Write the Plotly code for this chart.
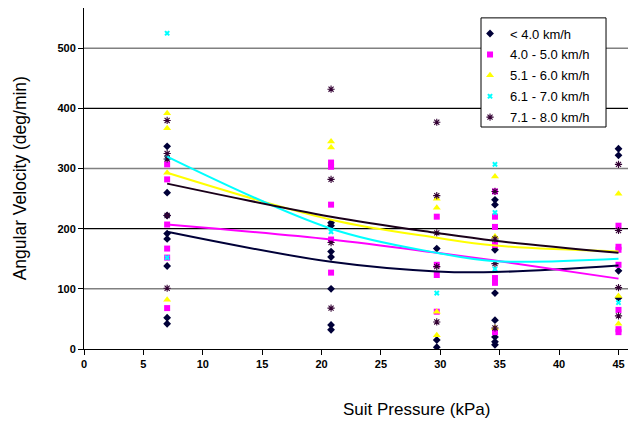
import plotly.graph_objects as go

# ---- data ----
series_names = ["&lt; 4.0 km/h", "4.0 - 5.0 km/h", "5.1 - 6.0 km/h", "6.1 - 7.0 km/h", "7.1 - 8.0 km/h"]

p_lt4 = [7]*8 + [20.8]*7 + [29.7]*3 + [34.6]*8 + [45]*4
v_lt4 = [337, 260, 222, 192, 183, 138, 52, 42,
         210, 205, 162, 153, 100, 40, 32,
         167, 15, 3,
         248, 240, 165, 93, 48, 20, 12, 7,
         333, 322, 130, 85]

p_4to5 = [7]*6 + [20.8]*5 + [29.7]*4 + [34.6]*7 + [45]*7
v_4to5 = [307, 282, 207, 167, 152, 68,
          310, 303, 240, 182, 127,
          220, 140, 123, 62,
          262, 220, 203, 173, 118, 110, 28,
          205, 170, 165, 140, 65, 33, 28]

p_5to6 = [7]*4 + [20.8]*2 + [29.7]*4 + [34.6]*3 + [45]*3
v_5to6 = [392, 367, 293, 82,
          345, 335,
          250, 235, 62, 23,
          287, 187, 35,
          258, 88, 42]

p_6to7 = [7]*3 + [20.8] + [29.7] + [34.6]*3 + [45]
v_6to7 = [525, 318, 152,
          195,
          93,
          307, 227, 133,
          77]

p_7to8 = [7]*5 + [20.8]*4 + [29.7]*5 + [34.6]*4 + [45]*4
v_7to8 = [380, 325, 316, 222, 101,
          432, 282, 177, 68,
          377, 255, 193, 137, 45,
          262, 183, 142, 35,
          307, 197, 102, 55]

# trend lines (values read at the measured pressures)
trend_p = [7, 20.8, 29.7, 34.6, 45]
trend_lt4 = [195, 145, 129, 128, 139]
trend_4to5 = [207, 182, 160, 147, 117]
trend_5to6 = [293, 215, 185, 172, 162]
trend_6to7 = [320, 200, 160, 146, 150]
trend_7to8 = [275, 220, 193, 180, 160]

x_ticks = [0, 5, 10, 15, 20, 25, 30, 35, 40, 45]
y_ticks = [0, 100, 200, 300, 400, 500]
grid_gray = [100, 300, 500]
grid_black = [200, 400]

# ---- styles ----
FONT = "Liberation Sans, Arial, sans-serif"
styles = [
    dict(symbol="diamond", size=6, color="#000038", line=dict(width=0)),
    dict(symbol="square", size=6, color="#ff00ff", line=dict(width=0)),
    dict(symbol="triangle-up", size=7, color="#ffff00", line=dict(width=0)),
    dict(symbol="x", size=5, color="#00ffff", line=dict(width=0)),
    dict(symbol="asterisk-open", size=6, color="#330033", line=dict(width=1.1, color="#330033")),
]
line_colors = ["#000038", "#ff00ff", "#ffff00", "#00ffff", "#1a001a"]

fig = go.Figure()
data = [(p_lt4, v_lt4), (p_4to5, v_4to5), (p_5to6, v_5to6), (p_6to7, v_6to7), (p_7to8, v_7to8)]
for i, ((px, vy), name) in enumerate(zip(data, series_names)):
    fig.add_trace(go.Scatter(x=px, y=vy, mode="markers", name=name, marker=styles[i],
                             legendgroup=f"g{i}"))

trends = [trend_lt4, trend_4to5, trend_5to6, trend_6to7, trend_7to8]
for i, t in enumerate(trends):
    fig.add_trace(go.Scatter(x=trend_p, y=t, mode="lines",
                             line=dict(color=line_colors[i], width=2, shape="spline", smoothing=1.0),
                             showlegend=False, hoverinfo="skip"))

shapes = []
for g in grid_gray:
    shapes.append(dict(type="line", xref="paper", x0=0, x1=1, yref="y", y0=g, y1=g,
                       line=dict(color="#808080", width=1.5), layer="below"))
for g in grid_black:
    shapes.append(dict(type="line", xref="paper", x0=0, x1=1, yref="y", y0=g, y1=g,
                       line=dict(color="#000000", width=1.2), layer="below"))
# legend frame
shapes.append(dict(type="rect", xref="paper", yref="paper", x0=0.7298, x1=0.9596, y0=0.651, y1=0.971,
                   line=dict(color="black", width=1), fillcolor="white", layer="above"))

tickfont = dict(family=FONT, size=11, color="black", weight="bold")

fig.update_layout(
    width=635, height=424,
    margin=dict(l=84, r=7, t=8, b=75),
    paper_bgcolor="white", plot_bgcolor="white",
    font=dict(family=FONT, color="black"),
    shapes=shapes,
    showlegend=True,
    legend=dict(x=0.7096, y=0.969, xanchor="left", yanchor="top",
                bgcolor="rgba(0,0,0,0)", borderwidth=0,
                font=dict(family=FONT, size=13, color="black"),
                tracegroupgap=1, traceorder="grouped"),
    xaxis=dict(range=[0, 45.8], tickmode="array", tickvals=x_ticks,
               showgrid=False, zeroline=False, showline=True, linecolor="black", linewidth=1,
               ticks="outside", ticklen=5, tickcolor="black", tickfont=tickfont),
    yaxis=dict(range=[0, 567], tickmode="array", tickvals=y_ticks,
               showgrid=False, zeroline=False, showline=True, linecolor="black", linewidth=1,
               ticks="outside", ticklen=5, tickcolor="black", tickfont=tickfont),
    annotations=[
        dict(text="Angular Velocity (deg/min)", xref="paper", yref="paper", x=-0.14, y=0.5,
             textangle=-90, showarrow=False, font=dict(family=FONT, size=17.5, color="black")),
        dict(text="Suit Pressure (kPa)", xref="paper", yref="paper", x=0.612, y=-0.21,
             showarrow=False, font=dict(family=FONT, size=17, color="black")),
    ],
)

fig.write_html("out.html", config={"displayModeBar": False},
               post_script="document.body.style.margin='0';")
